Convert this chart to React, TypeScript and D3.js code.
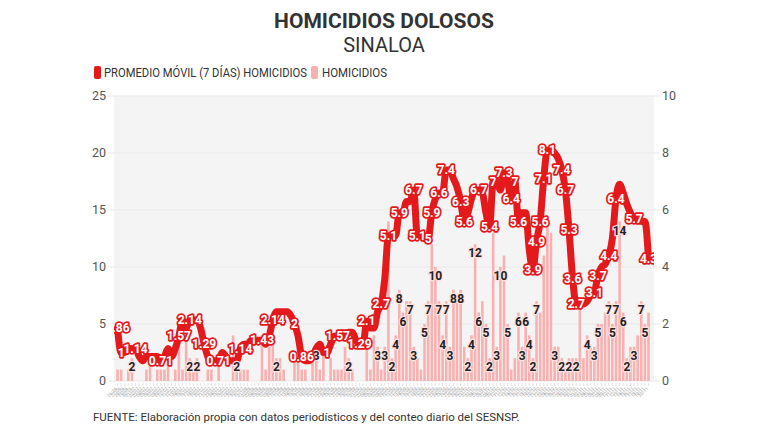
import React from 'react';
import * as d3 from 'd3';

const START_DATE = '2024-06-26';

// Homicidios diarios (eje izquierdo)
const homicidios: number[] = [
  1, 1, 0, 1, 2, 0, 0, 0, 1, 2,
  0, 1, 1, 1, 2, 0, 1, 5, 1, 4,
  2, 1, 2, 0, 0, 1, 1, 0, 2, 0,
  0, 0, 4, 2, 1, 1, 1, 0, 0, 0,
  4, 1, 3, 4, 2, 2, 1, 0, 0, 2,
  2, 1, 1, 0, 2, 3, 1, 3, 0, 2,
  1, 1, 1, 3, 2, 1, 0, 0, 0, 3,
  1, 4, 3, 1, 3,
  14, 2, 4, 8, 6, 7, 7, 3, 2, 1, 5, 7, 12,
  10, 7, 4, 7, 3, 8, 7, 8, 3, 2, 4, 12,
  6, 7, 5, 2, 13, 3, 10, 11, 5, 1, 2, 6, 3, 6, 4, 2, 7, 6,
  11, 14, 13, 3, 3, 2, 1, 2, 2, 2, 7, 2, 4, 3, 3, 5, 5, 6, 7, 5, 7, 14, 6, 2, 3, 3, 4, 7, 5, 6,
];

// Promedio móvil 7 días (eje derecho)
const promedioMovil: number[] = [
  1.86, 1, 1, 1.14, 1.14, 1.14, 0.86, 0.71, 0.86, 0.86,
  0.86, 0.86, 0.71, 0.86, 1.14, 0.86, 1.14, 1.57, 2.14, 1.86,
  2.14, 2.14, 2.14, 1.86, 1.29, 0.86, 0.71, 0.71, 0.71, 1,
  0.86, 0.71, 0.71, 0.71, 1.14, 1.29, 1.29, 1.43, 1.43, 1.43,
  1.43, 1.29, 1.57, 2.14, 2.43, 2.43, 2.43, 2.43, 2.29, 2,
  1.57, 0.86, 0.71, 0.71, 0.86, 1.14, 1.29, 1, 1, 1.29,
  1.57, 1.57, 1.57, 1.57, 1.71, 1.71, 1.43, 1.29, 1.29, 2.1,
  1.86, 1.86, 2.43, 2.7, 3.6, 5.1, 5.1, 5.1, 5.9, 5.9,
  6.3, 6.3, 6.7, 5.1, 5.1, 5.1, 5, 5.9, 6.4, 6.6,
  6.6, 7.4, 7.4, 7.1, 6.8, 6.3, 5.6, 5.9, 6.4, 6.7,
  6.7, 6.6, 5.9, 5.4, 7, 7, 6.7, 7.3, 7, 6.4,
  7, 5.6, 5.9, 5.9, 4.6, 3.9, 4.9, 5.6, 7.1, 8.1,
  8.1, 8, 7.8, 7.4, 6.7, 5.3, 3.6, 2.7, 2.7, 2.7,
  2.8, 3, 3.1, 3.7, 4, 4.1, 4.4, 5, 6.4, 6.9,
  6.6, 6.2, 5.9, 5.7, 5.7, 5.6, 5.6, 4.3,
];

const lineLabelIdx: number[] = [
  0, 1, 5, 12, 17, 20, 24, 28, 34, 40, 43, 49, 51, 58, 61, 67, 69, 73, 75, 78,
  82, 83, 86, 87, 89, 91, 95, 96, 100, 103, 104, 107, 109, 110, 111, 115, 116,
  117, 118, 119, 123, 124, 125, 126, 127, 132, 133, 136, 138, 143, 147,
];

const barLabelIdx: number[] = [
  4, 20, 22, 33, 44, 55, 64, 72, 74,
  76, 77, 78, 79, 81, 82, 85, 86, 88, 89, 90, 91, 92, 93, 95, 97, 98, 99, 100,
  102, 103, 105, 106, 108, 111, 112, 113, 114, 115, 116, 121, 123, 125, 127,
  130, 132, 133, 136, 137, 138, 139, 140, 141, 143, 145, 146,
];

const leftTicks = [0, 5, 10, 15, 20, 25];
const rightTicks = [0, 2, 4, 6, 8, 10];

const TITLE = 'HOMICIDIOS DOLOSOS';
const SUBTITLE = 'SINALOA';
const LEGEND_LINE = 'PROMEDIO MÓVIL (7 DÍAS) HOMICIDIOS';
const LEGEND_BAR = 'HOMICIDIOS';
const SOURCE = 'FUENTE: Elaboración propia con datos periodísticos y del conteo diario del SESNSP.';

const RED = '#e3191c';
const PINK = '#f9b0b0';
const FONT = 'Roboto, "Open Sans", sans-serif';

export default function App() {
  const W = 768;
  const H = 432;
  const plot = { left: 114, right: 654, top: 96, bottom: 381 };

  const start = d3.timeParse('%Y-%m-%d')(START_DATE) as Date;
  const dates = homicidios.map((_, i) => d3.timeDay.offset(start, i));
  const fmt = d3.timeFormat('%d/%m');

  const idx = d3.range(homicidios.length);
  const x = d3.scalePoint<number>().domain(idx).range([117.5, 648.5]);
  const step = x.step();
  const bw = step * 0.72;
  const yL = d3.scaleLinear().domain([0, 25]).range([plot.bottom, plot.top]);
  const yR = d3.scaleLinear().domain([0, 10]).range([plot.bottom, plot.top]);

  const line = d3
    .line<number>()
    .x((_, i) => x(i) as number)
    .y((d) => yR(d))
    .curve(d3.curveMonotoneX);

  return (
    <svg
      width={W}
      height={H}
      style={{ position: 'absolute', left: 0, top: 0, background: '#fff' }}
      fontFamily={FONT}
    >
      <defs>
        <clipPath id="plotclip">
          <rect x={plot.left} y={plot.top - 20} width={plot.right - plot.left} height={plot.bottom - plot.top + 20} />
        </clipPath>
      </defs>
      <rect width={W} height={H} fill="#fff" />

      {/* Title */}
      <text x={384} y={28} textAnchor="middle" fontSize={21} fontWeight={700} fill="#333">
        {TITLE}
      </text>
      <text x={384} y={52} textAnchor="middle" fontSize={20} fill="#333">
        {SUBTITLE}
      </text>

      {/* Legend */}
      <rect x={94} y={66} width={7} height={13} rx={2} fill={RED} />
      <text x={104} y={77} fontSize={12} fill="#333" textLength={203} lengthAdjust="spacingAndGlyphs">
        {LEGEND_LINE}
      </text>
      <rect x={311} y={66} width={7} height={13} rx={2} fill={PINK} />
      <text x={322} y={77} fontSize={12} fill="#333" textLength={65} lengthAdjust="spacingAndGlyphs">
        {LEGEND_BAR}
      </text>

      {/* Plot background */}
      <rect x={plot.left} y={plot.top} width={plot.right - plot.left} height={plot.bottom - plot.top} fill="#f4f4f4" />

      {/* Grid */}
      {leftTicks.map((t) => (
        <line key={'g' + t} x1={108} x2={660} y1={yL(t)} y2={yL(t)} stroke="#e9e9e9" strokeWidth={1} />
      ))}

      {/* Left axis */}
      {leftTicks.map((t) => (
        <text key={'l' + t} x={106} y={yL(t)} dy="0.35em" textAnchor="end" fontSize={12.5} fill="#555">
          {t}
        </text>
      ))}
      {/* Right axis */}
      {rightTicks.map((t) => (
        <text key={'r' + t} x={662} y={yR(t)} dy="0.35em" textAnchor="start" fontSize={12.5} fill="#555">
          {t}
        </text>
      ))}

      {/* X ticks & labels */}
      {dates.map((d, i) => (
        <g key={'x' + i}>
          <line x1={x(i)} x2={x(i)} y1={plot.bottom + 2} y2={plot.bottom + 5} stroke="#dcdcdc" strokeWidth={0.8} />
          <text
            transform={`translate(${x(i)},${plot.bottom + 8}) rotate(-45)`}
            textAnchor="end"
            fontSize={4.5}
            fill="#aaa"
          >
            {fmt(d)}
          </text>
        </g>
      ))}

      {/* Bars */}
      {homicidios.map((v, i) => (
        <rect
          key={'b' + i}
          x={(x(i) as number) - bw / 2}
          y={yL(v)}
          width={bw}
          height={plot.bottom - yL(v)}
          fill={PINK}
        />
      ))}

      {/* Line */}
      <path d={line(promedioMovil) || ''} fill="none" stroke={RED} strokeWidth={7} strokeLinejoin="round" strokeLinecap="round" />

      {/* Bar labels */}
      {barLabelIdx.map((i) => (
        <text
          key={'bl' + i}
          x={x(i)}
          y={yL(homicidios[i]) + 9}
          dy="0.35em"
          textAnchor="middle"
          fontSize={12}
          fontWeight={700}
          fill="#222"
          stroke="#fde0e0"
          strokeWidth={2.5}
          paintOrder="stroke"
        >
          {homicidios[i]}
        </text>
      ))}

      {/* Line labels */}
      <g clipPath="url(#plotclip)">
        {lineLabelIdx.map((i) => (
          <text
            key={'ll' + i}
            x={x(i)}
            y={yR(promedioMovil[i])}
            dy="0.35em"
            textAnchor="middle"
            fontSize={12}
            fontWeight={700}
            fill="#fff"
            stroke={RED}
            strokeWidth={3.5}
            strokeLinejoin="round"
            paintOrder="stroke"
          >
            {String(promedioMovil[i])}
          </text>
        ))}
      </g>

      {/* Source */}
      <text x={93} y={421} fontSize={11.5} fill="#333">
        {SOURCE}
      </text>
    </svg>
  );
}
